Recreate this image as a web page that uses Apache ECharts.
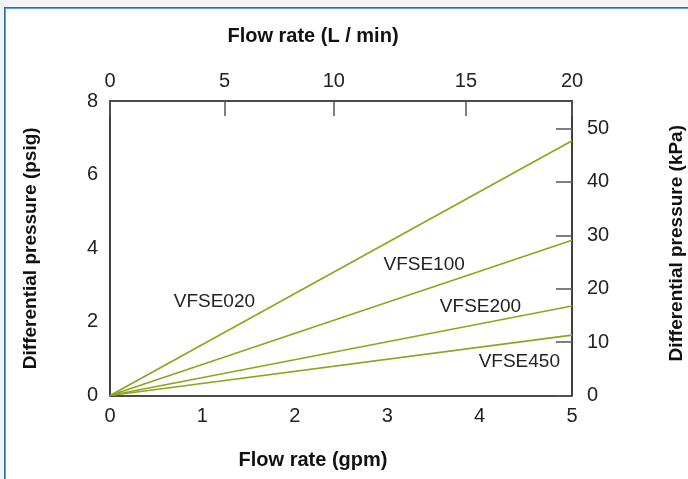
<!DOCTYPE html>
<html>
<head>
<meta charset="utf-8">
<script src="https://cdn.jsdelivr.net/npm/echarts@6/dist/echarts.min.js"></script>
<style>
html,body{margin:0;padding:0;width:688px;height:479px;overflow:hidden;background:#f2f3f5;}
#panel{position:absolute;left:4px;top:7px;width:700px;height:490px;background:#fff;border-left:1px solid #2a69b3;border-top:1px solid #2a69b3;box-shadow:inset 1px 1px 0 #5c9fe4;}
#chart{position:absolute;left:0;top:0;width:688px;height:479px;}
</style>
</head>
<body>
<div id="panel"></div>
<div id="chart"></div>
<script>
// Series: differential pressure (psig) vs flow rate (gpm), straight lines from origin
const seriesNames = ['VFSE020', 'VFSE100', 'VFSE200', 'VFSE450'];
const flowGpm = [0, 5];
const dpVFSE020 = [0, 6.92];
const dpVFSE100 = [0, 4.22];
const dpVFSE200 = [0, 2.43];
const dpVFSE450 = [0, 1.64];
// label anchor points in data units (gpm, psig)
const labelGpm = [1.13, 3.40, 4.01, 4.43];
const labelPsig = [2.54, 3.55, 2.42, 0.91];
// tick labels
const gpmTicks = [0, 1, 2, 3, 4, 5];
const psigTicks = [0, 2, 4, 6, 8];
const lpmLabels = ['0', '5', '10', '15', '20'];
const lpmTickAt = [0, 4.96, 9.69, 15.41, 20];   // where the reference draws them on the L/min scale
const kpaTicks = [0, 10, 20, 30, 40, 50];
const kpaMax = 8 * 6.895;

const FONT = '"Liberation Sans", Arial, sans-serif';
const GREEN = '#8aa61c';
const dpAll = [dpVFSE020, dpVFSE100, dpVFSE200, dpVFSE450];

const chart = echarts.init(document.getElementById('chart'), null, {renderer: 'canvas'});
const axisLine = {show: true, onZero: false, lineStyle: {color: '#111', width: 1.6}};
const tickLbl = {color: '#222', fontSize: 20, fontFamily: FONT};
const nameStyle = {color: '#111', fontSize: 19, fontWeight: 'bold', fontFamily: FONT};
const nameStyleX = Object.assign({}, nameStyle, {fontSize: 20, padding: [0, 56, 0, 0]});

const series = seriesNames.map((n, i) => ({
  name: n,
  type: 'line',
  xAxisIndex: 0, yAxisIndex: 0,
  data: flowGpm.map((x, k) => [x, dpAll[i][k]]),
  showSymbol: false,
  symbol: 'none',
  lineStyle: {color: GREEN, width: 1.6},
  silent: true,
  markPoint: {
    symbol: 'circle', symbolSize: 0,
    label: {show: true, position: 'inside', formatter: n, color: '#222', fontSize: 19, fontFamily: FONT},
    data: [{coord: [labelGpm[i], labelPsig[i]]}]
  }
}));

chart.setOption({
  animation: false,
  grid: {left: 110, right: 116, top: 101, bottom: 83.5, outerBoundsMode: 'none', containLabel: false},
  xAxis: [
    {
      type: 'value', position: 'bottom', min: 0, max: 5, interval: 1,
      name: 'Flow rate (gpm)', nameLocation: 'middle', nameGap: 55, nameTextStyle: nameStyleX,
      axisLine: axisLine, axisTick: {show: false}, splitLine: {show: false},
      axisLabel: Object.assign({margin: 11, customValues: gpmTicks}, tickLbl)
    },
    {
      type: 'value', position: 'top', min: 0, max: 20,
      name: 'Flow rate (L / min)', nameLocation: 'middle', nameGap: 55, nameTextStyle: nameStyleX,
      axisLine: axisLine, splitLine: {show: false},
      axisTick: {show: true, inside: true, length: 15, lineStyle: {color: '#555', width: 1.5}, customValues: lpmTickAt},
      axisLabel: Object.assign({margin: 10, customValues: lpmTickAt,
        formatter: v => { let b = 0; lpmTickAt.forEach((t, k) => { if (Math.abs(t - v) < Math.abs(lpmTickAt[b] - v)) b = k; }); return lpmLabels[b]; }
      }, tickLbl)
    }
  ],
  yAxis: [
    {
      type: 'value', position: 'left', min: 0, max: 8, interval: 2,
      name: 'Differential pressure (psig)', nameLocation: 'middle', nameGap: 70, nameRotate: 90, nameTextStyle: nameStyle,
      axisLine: axisLine, axisTick: {show: false}, splitLine: {show: false},
      axisLabel: Object.assign({margin: 12, customValues: psigTicks}, tickLbl)
    },
    {
      type: 'value', position: 'right', min: 0, max: kpaMax,
      name: 'Differential pressure (kPa)', nameLocation: 'middle', nameGap: 95, nameRotate: 90, nameTextStyle: Object.assign({}, nameStyle, {padding: [0, 0, 0, 10]}),
      axisLine: axisLine, splitLine: {show: false},
      axisTick: {show: true, inside: true, length: 16, lineStyle: {color: '#555', width: 1.5}, customValues: kpaTicks},
      axisLabel: Object.assign({margin: 15, customValues: kpaTicks}, tickLbl)
    }
  ],
  series: series
});
</script>
</body>
</html>
